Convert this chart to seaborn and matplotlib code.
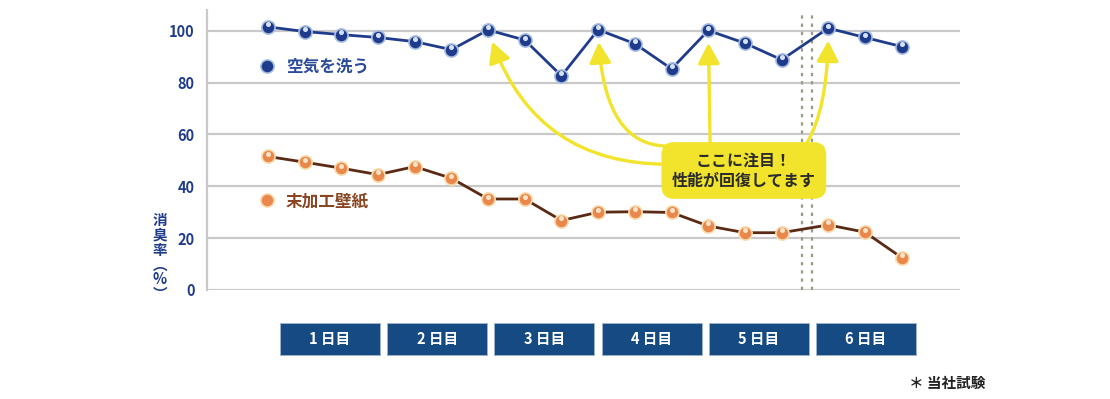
import numpy as np
import matplotlib.pyplot as plt
import matplotlib.transforms as mtransforms
from matplotlib.patches import Rectangle
from matplotlib.lines import Line2D
import seaborn as sns

# data (3 readings per day, 6 days)
days = ["1日目", "2日目", "3日目", "4日目", "5日目", "6日目"]
air_wash = [101.5, 99.7, 98.5, 97.4, 95.8, 92.7,
            100.3, 96.4, 82.6, 100.4, 95.0, 85.3,
            100.1, 95.2, 88.8, 101.0, 97.4, 93.9]
plain_wall = [51.5, 49.3, 47.0, 44.5, 47.6, 43.1,
              35.1, 35.1, 26.8, 30.0, 30.2, 29.9,
              24.7, 22.1, 22.1, 25.1, 22.3, 12.5]
series_names = ["空気を洗う", "末加工壁紙"]
recovered = [6, 9, 12, 15]  # readings the callout points at
y_ticks = [0, 20, 40, 60, 80, 100]

BLUE = "#1f3b8c"
ORANGE = "#ea874c"
BROWN = "#5a2a14"
YELLOW = "#f2e42c"
BOX = "#164a82"

sns.set_theme(style="white")
plt.rcParams["font.family"] = ["Noto Sans CJK JP", "DejaVu Sans"]

# small gap before the 6th day (dotted separator)
idx = np.arange(len(air_wash))
x = idx + (idx >= 15) * 0.27

fig = plt.figure(figsize=(11.1, 3.99), dpi=100)
ax = fig.add_axes([207 / 1110, 1 - 290 / 399, 753 / 1110, 280 / 399])

for yt in y_ticks:
    ax.axhline(yt, color="#c9c9c9", lw=1.6, zorder=0)

sns.lineplot(x=x, y=air_wash, ax=ax, color=BLUE, lw=2, marker="o", markersize=9.5,
             markerfacecolor=BLUE, markeredgecolor="#a9c0e2", markeredgewidth=1.2, zorder=5)
sns.lineplot(x=x, y=plain_wall, ax=ax, color=BROWN, lw=2, marker="o", markersize=9.5,
             markerfacecolor=ORANGE, markeredgecolor="#f7ddae", markeredgewidth=1.2, zorder=5)

# little highlight on each bead
hl = mtransforms.offset_copy(ax.transData, fig=fig, x=0, y=1.8, units="points")
ax.plot(x, air_wash, ls="none", marker="o", ms=2.6, color="#d6e2f5", transform=hl, zorder=6)
ax.plot(x, plain_wall, ls="none", marker="o", ms=2.6, color="#fbe3c8", transform=hl, zorder=6)

# dotted separator between day 5 and day 6
for xs in (14.55, 14.82):
    ax.plot([xs, xs], [0, 106], color="#9a9a8a", lw=1.6, ls=(0, (1.5, 2.2)), zorder=1)

ax.set_xlim(-1.66, 18.86)
ax.set_ylim(0, 108)
ax.set_yticks(y_ticks)
ax.set_xticks([])
ax.tick_params(axis="y", length=0, pad=9, labelsize=10.5, labelcolor=BLUE)
for lbl in ax.get_yticklabels():
    lbl.set_fontweight("bold")
for s in ["top", "right", "bottom"]:
    ax.spines[s].set_visible(False)
ax.spines["left"].set_color("#c9c9c9")
ax.spines["left"].set_linewidth(1.6)

# vertical y label
fig.text(160 / 1110, 1 - 257 / 399, "消\n臭\n率\n︵\n%\n︶", ha="center", va="center",
         fontsize=10.5, fontweight="bold", color=BLUE, linespacing=0.92)

# legends placed next to each line
h1 = Line2D([], [], ls="none", marker="o", ms=9.5, mfc=BLUE, mec="#a9c0e2", mew=1.2)
h2 = Line2D([], [], ls="none", marker="o", ms=9.5, mfc=ORANGE, mec="#f7ddae", mew=1.2)
leg1 = ax.legend([h1], [series_names[0]], loc="center left", bbox_to_anchor=(0.069, 0.797),
                 frameon=False, handlelength=1, handletextpad=0.6, borderpad=0, borderaxespad=0,
                 prop={"size": 12, "weight": "bold"}, labelcolor="#2a4a9a")
ax.add_artist(leg1)
ax.legend([h2], [series_names[1]], loc="center left", bbox_to_anchor=(0.069, 0.318),
          frameon=False, handlelength=1, handletextpad=0.6, borderpad=0, borderaxespad=0,
          prop={"size": 12, "weight": "bold"}, labelcolor="#8a4522")

# callout
ax.text(12.97, 46.1, "ここに注目！\n性能が回復してます", ha="center", va="center",
        fontsize=11.5, fontweight="bold", color="#2b2b2b", linespacing=1.3, zorder=8,
        bbox=dict(boxstyle="round,pad=0.65,rounding_size=0.8", fc=YELLOW, ec="none"))

starts = [(10.9, 48.5), (10.9, 55.5), (12.05, 57), (14.7, 57)]
styles = ["angle3,angleA=0,angleB=108", "angle3,angleA=0,angleB=92",
          "arc3,rad=0", "angle3,angleA=60,angleB=90"]
for i, st, cs in zip(recovered, starts, styles):
    ax.annotate("", xy=(x[i], air_wash[i]), xytext=st, zorder=4,
                arrowprops=dict(arrowstyle="-|>,head_width=0.33,head_length=0.62",
                                mutation_scale=20, color=YELLOW, lw=2.4,
                                shrinkA=0, shrinkB=9, connectionstyle=cs))

# day boxes under the plot
for k, d in enumerate(days):
    left = 280 + 107.2 * k
    fig.patches.append(Rectangle((left / 1110, 1 - 355 / 399), 100 / 1110, 32 / 399,
                                 transform=fig.transFigure, fc=BOX, ec="#9fb4cf", lw=0.6))
    fig.text((left + 50) / 1110, 1 - 339 / 399, d[0] + " " + d[1:], ha="center", va="center",
             fontsize=10.5, fontweight="bold", color="white")

fig.text(985 / 1110, 1 - 383 / 399, "＊ 当社試験", ha="right", va="center",
         fontsize=10.5, fontweight="bold", color="#222222")

fig.savefig("out.png", dpi=100)
